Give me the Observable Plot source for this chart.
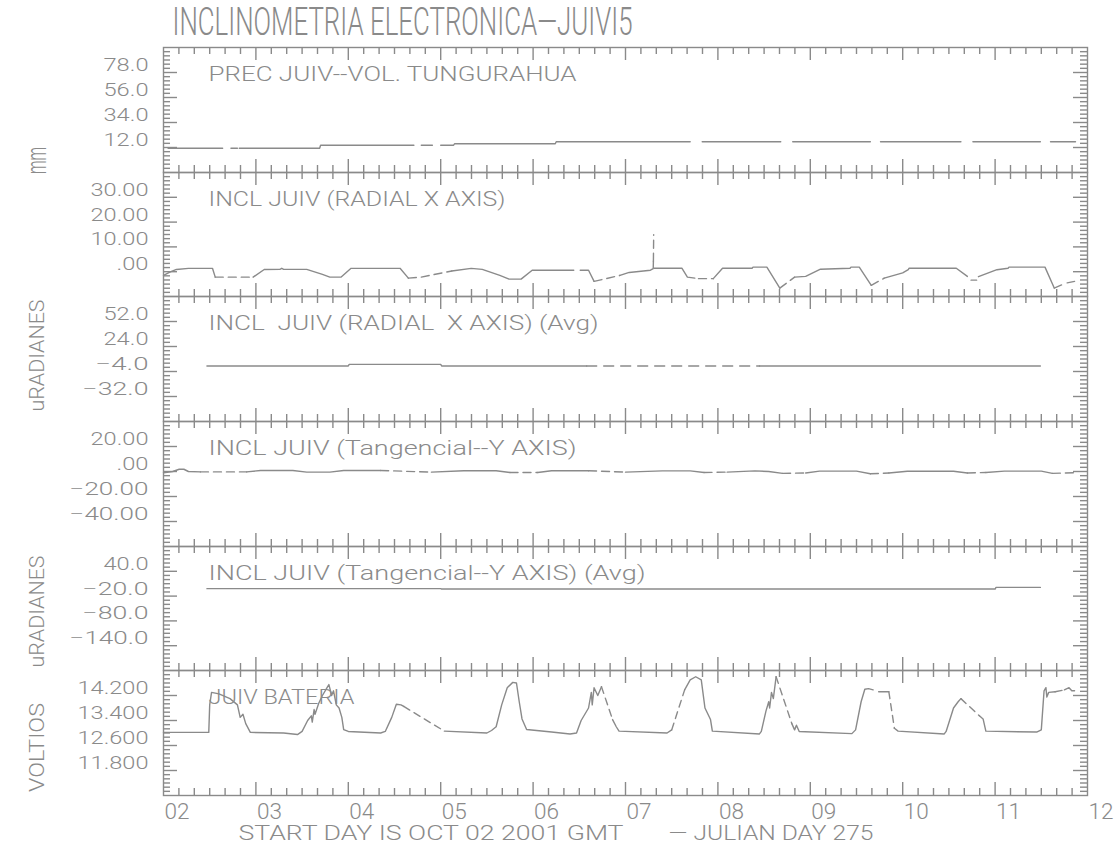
<!DOCTYPE html>
<html><head><meta charset="utf-8">
<script src="https://cdn.jsdelivr.net/npm/d3@7"></script>
<script src="https://cdn.jsdelivr.net/npm/@observablehq/plot@0.6"></script>
<style>
html,body{margin:0;padding:0;background:#fff;}
#chart{position:relative;width:1117px;height:846px;overflow:hidden;background:#fff;}
</style></head><body><div id="chart"></div>
<script>
// ---------- DATA ----------
const days = [2,3,4,5,6,7,8,9,10,11,12];
const dayLabels = ["02","03","04","05","06","07","08","09","10","11","12"];
const title = "INCLINOMETRIA ELECTRONICA—JUIVI5";
const captionLeft = "START DAY IS OCT 02 2001 GMT";
const captionRight = "— JULIAN DAY 275";
const panelTitles = [
  "PREC JUIV--VOL. TUNGURAHUA",
  "INCL JUIV (RADIAL X AXIS)",
  "INCL  JUIV (RADIAL  X AXIS) (Avg)",
  "INCL JUIV (Tangencial--Y AXIS)",
  "INCL JUIV (Tangencial--Y AXIS) (Avg)",
  "JUIV BATERIA"
];
const sideText = ["mm","uRADIANES","uRADIANES","VOLTIOS"];
const yDomains = [[-10,100],[-10,40],[-60,80],[-60,40],[-200,100],[11,15]];
const yTicks = [[78,56,34,12],[30,20,10,0],[52,24,-4,-32],[20,0,-20,-40],[40,-20,-80,-140],[14.2,13.4,12.6,11.8]];
const yTickLabels = [
  ["78.0","56.0","34.0","12.0"],
  ["30.00","20.00","10.00",".00"],
  ["52.0","24.0","−4.0","−32.0"],
  ["20.00",".00","−20.00","−40.00"],
  ["40.0","−20.0","−80.0","−140.0"],
  ["14.200","13.400","12.600","11.800"]
];
// [day, value, style of segment to next point: s=solid, d=dashed, -=gap]
const precip = [
  [2.05,11.4,'s'],[2.64,11.4,'-'],[2.73,11.4,'s'],[2.80,11.4,'-'],[2.82,11.4,'s'],[3.69,11.4,'s'],
  [3.70,14.0,'s'],[4.71,14.0,'-'],[4.79,14.0,'s'],[4.91,14.0,'-'],[5.00,14.0,'s'],[5.14,14.0,'s'],
  [5.15,15.3,'s'],[6.24,15.3,'s'],[6.25,17.0,'s'],[7.70,17.0,'-'],[7.83,17.0,'s'],[8.68,17.0,'-'],
  [8.81,17.0,'s'],[9.65,17.0,'-'],[9.76,17.0,'s'],[10.63,17.0,'-'],[10.76,17.0,'s'],[11.49,17.0,'-'],
  [11.60,17.0,'s'],[11.87,17.0,'-']
];
const radialX = [
  [2.00,-1.5,'s'],[2.08,0.0,'s'],[2.14,0.9,'s'],[2.27,1.36,'s'],[2.53,1.36,'s'],[2.56,-2.2,'d'],
  [2.97,-2.2,'s'],[3.09,0.9,'s'],[3.26,0.95,'s'],[3.28,1.36,'s'],[3.30,0.95,'s'],[3.55,0.95,'s'],
  [3.72,-1.1,'s'],[3.80,-2.2,'s'],[3.92,-2.2,'s'],[4.03,1.36,'s'],[4.56,1.36,'s'],[4.65,-2.6,'d'],
  [4.79,-2.2,'d'],[5.12,0.3,'s'],[5.33,1.36,'s'],[5.45,0.95,'s'],[5.64,-1.5,'s'],[5.74,-3.0,'s'],
  [5.87,-3.0,'s'],[5.99,0.6,'s'],[6.44,0.6,'-'],[6.51,0.6,'s'],[6.60,0.6,'s'],[6.66,-3.9,'d'],
  [6.94,-1.5,'s'],[7.04,-0.3,'s'],[7.27,0.6,'s'],[7.30,1.2,'s'],[7.302,4.2,'d'],[7.305,14.9,'-'],
  [7.31,1.4,'s'],[7.61,1.4,'s'],[7.67,-2.2,'s'],[7.75,-2.6,'-'],[7.79,-2.8,'d'],[7.95,-2.8,'s'],
  [8.05,1.4,'s'],[8.37,1.4,'s'],[8.38,1.85,'s'],[8.53,1.85,'s'],[8.67,-6.6,'d'],[8.83,-2.2,'s'],
  [8.95,-1.9,'s'],[9.11,1.0,'s'],[9.43,1.4,'s'],[9.44,1.85,'s'],[9.53,1.85,'s'],[9.66,-5.5,'d'],
  [9.80,-2.6,'s'],[10.00,-0.5,'s'],[10.06,0.8,'s'],[10.07,1.4,'s'],[10.58,1.4,'s'],[10.70,-1.9,'-'],
  [10.74,-3.4,'d'],[10.80,-3.4,'-'],[10.82,-2.0,'s'],[11.02,0.8,'s'],[11.14,1.4,'s'],[11.15,1.85,'s'],
  [11.54,1.85,'s'],[11.64,-6.6,'d'],[11.74,-5.0,'-'],[11.78,-4.5,'d'],[11.86,-3.9,'-']
];
const radialXAvg = [
  [2.47,2.2,'s'],[4.00,2.2,'s'],[4.01,4.0,'s'],[5.00,4.0,'s'],[5.01,2.2,'s'],[6.58,2.2,'d'],
  [8.45,2.2,'s'],[11.49,2.2,'-']
];
const tangY = [
  [2.00,-1.0,'s'],[2.10,0.0,'s'],[2.17,1.8,'s'],[2.22,1.8,'s'],[2.27,0.0,'s'],[2.40,-0.3,'d'],
  [2.90,-0.3,'s'],[3.05,0.8,'s'],[3.40,0.8,'s'],[3.55,-0.5,'s'],[3.80,-0.5,'s'],[3.95,0.8,'s'],
  [4.35,0.8,'d'],[4.90,-0.5,'s'],[5.25,0.6,'s'],[5.60,0.6,'s'],[5.75,-0.8,'d'],[6.05,-0.8,'s'],
  [6.20,0.6,'s'],[6.60,0.6,'d'],[7.00,-0.5,'s'],[7.40,0.5,'s'],[7.70,0.5,'s'],[7.85,-0.8,'d'],
  [8.10,-0.5,'s'],[8.40,0.5,'s'],[8.55,0.0,'s'],[8.70,-1.5,'d'],[8.95,-1.2,'s'],[9.10,0.3,'s'],
  [9.50,0.3,'s'],[9.65,-1.8,'d'],[9.85,-1.2,'s'],[10.05,0.2,'s'],[10.55,0.2,'s'],[10.70,-1.2,'d'],
  [10.90,-0.8,'s'],[11.10,0.3,'s'],[11.50,0.3,'s'],[11.62,-1.5,'d'],[11.86,-1.0,'-']
];
const tangYAvg = [
  [2.47,-2.0,'s'],[5.00,-2.0,'s'],[5.01,-3.0,'s'],[11.00,-3.0,'s'],[11.01,1.0,'s'],[11.49,1.0,'-']
];
const bateria = [
  [2.00,13.02,'s'],[2.49,13.02,'s'],[2.50,13.9,'s'],[2.52,14.3,'s'],[2.60,14.25,'s'],[2.72,14.1,'s'],
  [2.80,13.9,'s'],[2.83,13.5,'s'],[2.86,13.6,'s'],[2.89,13.3,'s'],[2.94,13.02,'s'],[3.30,13.0,'s'],
  [3.45,12.95,'s'],[3.50,13.05,'s'],[3.56,13.4,'s'],[3.60,13.55,'s'],[3.61,13.35,'s'],[3.63,13.75,'s'],
  [3.64,13.6,'s'],[3.68,13.95,'s'],[3.72,14.2,'s'],[3.77,14.45,'s'],[3.79,14.55,'s'],[3.82,14.2,'s'],
  [3.84,14.35,'s'],[3.87,13.9,'s'],[3.90,13.8,'s'],[3.93,13.5,'s'],[3.95,13.11,'s'],[4.00,13.05,'s'],
  [4.35,13.0,'s'],[4.40,13.05,'s'],[4.47,13.5,'s'],[4.52,13.92,'s'],[4.57,13.9,'s'],[4.60,13.85,'d'],
  [5.04,13.06,'s'],[5.50,13.0,'s'],[5.55,13.08,'s'],[5.60,13.2,'s'],[5.66,13.9,'s'],[5.72,14.45,'s'],
  [5.78,14.62,'s'],[5.82,14.6,'s'],[5.85,14.0,'s'],[5.88,13.45,'s'],[5.93,13.11,'s'],[6.20,13.03,'s'],
  [6.40,12.97,'s'],[6.47,13.0,'s'],[6.52,13.4,'s'],[6.60,13.8,'s'],[6.63,14.3,'s'],[6.64,13.9,'s'],
  [6.66,14.45,'s'],[6.70,14.2,'s'],[6.74,14.48,'d'],[6.86,13.43,'s'],[6.90,13.2,'s'],[6.93,13.06,'s'],
  [7.45,13.0,'s'],[7.50,13.1,'d'],[7.64,14.38,'s'],[7.70,14.7,'s'],[7.76,14.8,'s'],[7.82,14.7,'s'],
  [7.86,13.8,'s'],[7.92,13.43,'s'],[7.94,13.06,'s'],[8.45,12.97,'s'],[8.47,13.05,'s'],[8.52,13.7,'s'],
  [8.55,14.0,'s'],[8.56,13.8,'s'],[8.58,14.3,'s'],[8.60,14.1,'s'],[8.63,14.8,'d'],[8.80,13.3,'s'],
  [8.83,13.1,'s'],[8.85,13.25,'s'],[8.88,13.05,'s'],[9.45,12.98,'s'],[9.49,13.1,'s'],[9.55,14.0,'s'],
  [9.59,14.4,'s'],[9.63,14.42,'s'],[9.68,14.38,'-'],[9.74,14.32,'s'],[9.85,14.32,'d'],[9.91,13.15,'s'],
  [9.95,13.06,'s'],[10.45,12.97,'s'],[10.47,13.05,'s'],[10.55,13.8,'s'],[10.60,14.0,'s'],[10.63,14.1,'d'],
  [10.83,13.55,'s'],[10.87,13.45,'s'],[10.90,13.06,'s'],[11.45,13.03,'s'],[11.50,13.1,'s'],[11.53,14.35,'s'],
  [11.55,14.45,'s'],[11.56,14.15,'s'],[11.58,14.3,'s'],[11.65,14.32,'d'],[11.75,14.38,'s'],[11.80,14.45,'s'],
  [11.83,14.35,'s'],[11.86,14.35,'-']
];
const series = [precip, radialX, radialXAvg, tangY, tangYAvg, bateria];

// ---------- LAYOUT / STYLE ----------
const C = "#8a8a8a", TC = "#8a8a8a", SW = 1.4;
const FONT = "Roboto, 'Liberation Sans', 'DejaVu Sans', sans-serif";
const B = [47,172,296,421,546,670,795];
const W = 1117, ML = 163, MR = 30, PW = W - ML - MR;
const dashes = ["6,4","8,5","10,7","8,5","8,5","7,5"];
const panelTitleW = [368, 297, 390, 368, 437, 146];
const sideLayout = [
  {panel:0, frameAnchor:"bottom-left", dy:-12, w:27, size:27},
  {panel:2, frameAnchor:"left", dy:-3.5, w:110, size:21},
  {panel:4, frameAnchor:"left", dy:3, w:112, size:21},
  {panel:5, frameAnchor:"left", dy:14.5, w:89, size:21}
];
const xMinor = d3.range(1, 60).filter(k => k % 6 !== 0).map(k => 2 + k / 6);
const xMajor = days.slice(1, -1);

// target text lengths (px), looked up by content
const fixedW = new Map([
  [title, 460], [captionLeft, 385], [captionRight, 205],
  ...panelTitles.map((t, i) => [t, panelTitleW[i]]),
  ...sideText.map((t, k) => [t, sideLayout[k].w]),
  ...dayLabels.map(t => [t, 25])
]);
function textWidth(s) {
  if (fixedW.has(s)) return fixedW.get(s);
  let w = 0;
  for (const c of s) w += c === "." ? 8 : (c === "−" ? 21 : 13);
  return w - 2;
}
function fitAll(svg) {
  svg.querySelectorAll("text").forEach(t => {
    const s = t.textContent;
    if (!s) return;
    t.setAttribute("textLength", textWidth(s));
    t.setAttribute("lengthAdjust", "spacingAndGlyphs");
  });
}
function toRuns(pts) {
  const rows = []; let id = -1, prev = null;
  for (let i = 0; i < pts.length - 1; i++) {
    const s = pts[i][2];
    if (s === "-") { prev = null; continue; }
    if (s !== prev) { id++; rows.push({id, s, x: pts[i][0], v: pts[i][1]}); }
    rows.push({id, s, x: pts[i+1][0], v: pts[i+1][1]});
    prev = s;
  }
  return rows;
}

const chart = document.getElementById("chart");
for (let i = 0; i < 6; i++) {
  const h = B[i+1] - B[i], mt = i === 0 ? 47 : 0, mb = i === 5 ? 51 : 0;
  const dom = yDomains[i], maj = yTicks[i];
  const step = Math.abs(maj[0] - maj[1]) / 6;
  const base = maj[maj.length - 1];
  const minors = d3.range(Math.ceil((dom[0] - base) / step + 1e-9), Math.floor((dom[1] - base) / step - 1e-9) + 1)
    .map(k => base + k * step).filter(v => !maj.some(m => Math.abs(m - v) < 1e-9));
  const rows = toRuns(series[i]);
  const tk = {stroke: C, strokeWidth: SW};
  const txt = {fontWeight: 300, fill: TC};
  const marks = [
    Plot.frame({stroke: C, strokeWidth: SW}),
    Plot.tickY(minors, {y: d => d, insetRight: PW - 7, ...tk}),
    Plot.tickY(maj, {y: d => d, insetRight: PW - 14, ...tk}),
    Plot.tickY(minors, {y: d => d, insetLeft: PW - 7, ...tk}),
    Plot.tickY(maj, {y: d => d, insetLeft: PW - 14, ...tk}),
    Plot.tickX(xMinor, {x: d => d, insetBottom: h - 7, ...tk}),
    Plot.tickX(xMajor, {x: d => d, insetBottom: h - 13, ...tk}),
    Plot.tickX(xMinor, {x: d => d, insetTop: h - 7, ...tk}),
    Plot.tickX(xMajor, {x: d => d, insetTop: h - 13, ...tk}),
    Plot.line(rows.filter(r => r.s === "s"), {x: "x", y: "v", z: "id", stroke: C, strokeWidth: SW}),
    Plot.line(rows.filter(r => r.s === "d"), {x: "x", y: "v", z: "id", stroke: C, strokeWidth: SW, strokeDasharray: dashes[i]}),
    Plot.text(maj, {y: d => d, text: (d, j) => yTickLabels[i][j], frameAnchor: "left", dx: -15, dy: -7.5,
      textAnchor: "end", lineAnchor: "middle", fontSize: 19, ...txt}),
    Plot.text([panelTitles[i]], {frameAnchor: "top-left", dx: 45, dy: 27, textAnchor: "start", lineAnchor: "middle",
      fontSize: 20, ...txt})
  ];
  sideLayout.forEach((s, k) => {
    if (s.panel === i) marks.push(Plot.text([sideText[k]], {frameAnchor: s.frameAnchor, dx: 37 - ML, dy: s.dy,
      rotate: -90, textAnchor: "middle", lineAnchor: "middle", fontSize: s.size, ...txt}));
  });
  if (i === 0) {
    marks.push(Plot.text([title], {frameAnchor: "top-left", dx: 9, dy: -25, textAnchor: "start", lineAnchor: "middle",
      fontSize: 38, ...txt}));
  }
  if (i === 5) {
    marks.push(Plot.text(days, {x: d => d, text: (d, j) => dayLabels[j], frameAnchor: "bottom", dx: 1, dy: 16,
      textAnchor: "start", lineAnchor: "middle", fontSize: 22, ...txt}));
    marks.push(Plot.text([captionLeft], {frameAnchor: "bottom-left", dx: 75, dy: 38, textAnchor: "start", lineAnchor: "middle",
      fontSize: 21, ...txt}));
    marks.push(Plot.text([captionRight], {frameAnchor: "bottom-left", dx: 505, dy: 38, textAnchor: "start", lineAnchor: "middle",
      fontSize: 21, ...txt}));
  }
  const svg = Plot.plot({
    width: W, height: h + mt + mb, marginLeft: ML, marginRight: MR, marginTop: mt, marginBottom: mb,
    x: {domain: [2, 12], axis: null}, y: {domain: dom, axis: null},
    style: {overflow: "visible", fontFamily: FONT, background: "transparent"},
    marks
  });
  svg.style.position = "absolute";
  svg.style.left = "0px";
  svg.style.top = (B[i] - mt) + "px";
  chart.appendChild(svg);
  fitAll(svg);
}
</script></body></html>
